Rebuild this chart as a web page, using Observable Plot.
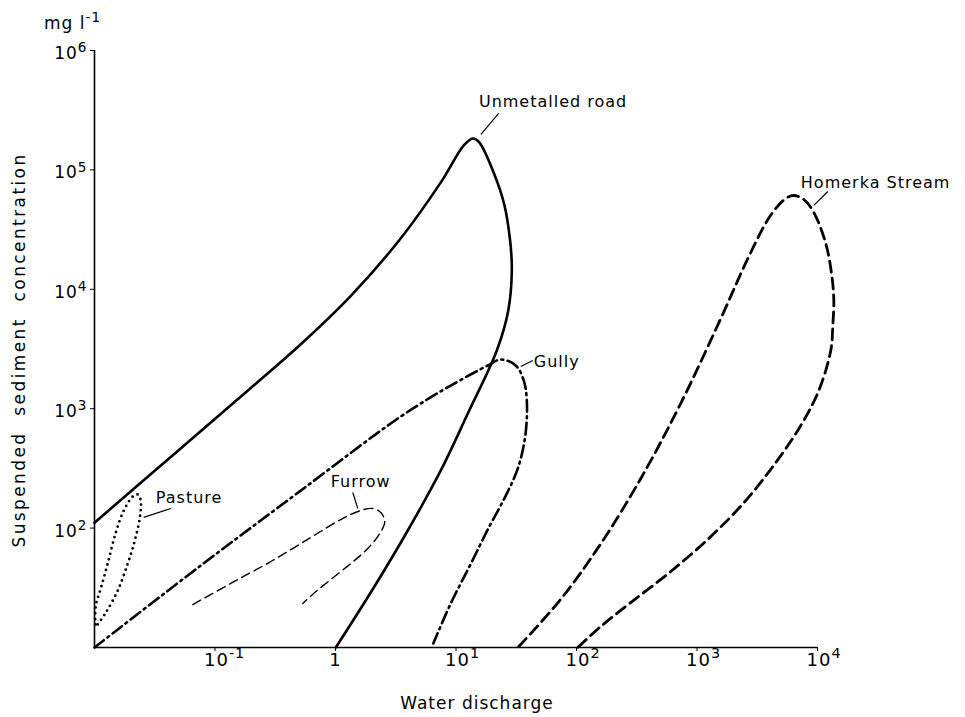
<!DOCTYPE html>
<html><head><meta charset="utf-8">
<script src="https://cdn.jsdelivr.net/npm/d3@7"></script>
<script src="https://cdn.jsdelivr.net/npm/@observablehq/plot@0.6"></script>
<style>
html,body{margin:0;padding:0;background:#fff;}
#chart{width:965px;height:717px;}
svg text{letter-spacing:1px;}
</style></head><body><div id="chart"></div>
<script>
// Water discharge (x) and suspended sediment concentration (y, mg/l) for each hysteresis loop
const roadQ = [0.01, 0.0491, 0.1982, 0.5152, 1.340, 3.483, 7.48, 11.61, 13.79, 15.55, 20.71, 25.06, 28.12, 29.05, 27.16, 21.81, 12.53, 7.48, 3.98, 2.079, 1.006];
const roadC = [111, 443, 1488, 3462, 8804, 26740, 78580, 160700, 183200, 170600, 92800, 52000, 25630, 14370, 6643, 3072, 911, 304, 95.5, 31.8, 10];

const gullyQ = [0.01, 0.0762, 0.515, 3.48, 9.05, 18.4, 23.5, 31.3, 36.5, 38.7, 37.6, 32.6, 25.4, 18.7, 13.3, 9.05, 6.48];
const gullyC = [10, 48.6, 206, 860, 1564, 2300, 2580, 2300, 1722, 1172, 596, 316, 180, 101, 50.5, 23.4, 10.8];

const pastureQ = [0.01015, 0.01025, 0.01128, 0.01288, 0.01503, 0.0175, 0.0208, 0.0229, 0.0242, 0.0238, 0.0216, 0.0189, 0.0156, 0.01242, 0.01064];
const pastureC = [15.6, 22.5, 31.2, 50.6, 91.8, 140, 184, 191, 170, 123, 78.7, 50.6, 30.0, 19.6, 15.6];

const furrowQ = [0.0654, 0.1352, 0.2904, 0.6237, 1.107, 1.622, 2.039, 2.376, 2.566, 2.331, 1.854, 1.340, 0.914, 0.673, 0.535];
const furrowC = [22.9, 34.4, 52.5, 83.4, 118, 140.4, 146, 135, 113.6, 90.1, 67.5, 50.5, 37.1, 28.9, 23.4];

const homerkaQ = [33.2, 74.1, 159.1, 341.7, 733.8, 1576, 2691, 4098, 5456, 6358, 7696, 9318, 11720, 13140, 13660, 13400, 12890, 10250, 7268, 4506, 2540, 1302, 606, 282, 159, 102.5];
const homerkaC = [10.2, 25.4, 74.0, 260.3, 1110, 5693, 18820, 41910, 57610, 61060, 56510, 43980, 24180, 13050, 8057, 4975, 3072, 1420, 723, 354, 170, 85.0, 43.3, 23.8, 15.0, 10];

// Curve labels and their leader lines (data coordinates)
const labelText = ["Unmetalled road", "Gully", "Pasture", "Furrow", "Homerka Stream"];
const labelQ = [15.5, 44.2, 0.0323, 0.914, 7270];
const labelC = [374000, 2480, 180, 245, 78400];
const leaderQ1 = [16.1, 34.5, 0.0256, 1.53, 9310];
const leaderC1 = [198000, 2255, 123, 146, 50400];
const leaderQ2 = [22.6, 43.4, 0.0430, 1.39, 12200];
const leaderC2 = [297000, 2535, 146, 199, 65900];

// Axes
const xDomain = [0.01, 10000];
const yDomain = [10, 1000000];
const xTicks = [0.1, 1, 10, 100, 1000, 10000];
const xTickLabels = ["10^-1", "1", "10^1", "10^2", "10^3", "10^4"];
const yTicks = [100, 1000, 10000, 100000, 1000000];
const yTickLabels = ["10^2", "10^3", "10^4", "10^5", "10^6"];
const xTitle = "Water discharge";
const yTitle = "Suspended sediment concentration";
const yUnit = "mg l^-1";

const rows = (q, c) => q.map((v, i) => ({q: v, c: c[i]}));
const road = rows(roadQ, roadC);
const gully = rows(gullyQ, gullyC);
const pasture = rows(pastureQ, pastureC);
const furrow = rows(furrowQ, furrowC);
const homerka = rows(homerkaQ, homerkaC);
const labels = labelText.map((t, i) => ({t, q: labelQ[i], c: labelC[i],
  q1: leaderQ1[i], c1: leaderC1[i], q2: leaderQ2[i], c2: leaderC2[i]}));
const xt = xTicks.map((v, i) => ({v, label: xTickLabels[i]}));
const yt = yTicks.map((v, i) => ({v, label: yTickLabels[i]}));

const svg = Plot.plot({
  width: 965, height: 717,
  marginLeft: 94, marginRight: 148, marginTop: 50, marginBottom: 70,
  x: {type: "log", domain: xDomain},
  y: {type: "log", domain: yDomain},
  style: {fontFamily: "DejaVu Sans", fontSize: "17px", background: "white", color: "black", overflow: "visible"},
  marks: [
    Plot.axisX(xTicks, {tickSize: 4, tickFormat: () => "", label: null}),
    Plot.axisY(yTicks, {tickSize: 4, tickFormat: () => "", label: null}),
    Plot.ruleX([xDomain[0]], {y1: yDomain[0], y2: yDomain[1], strokeWidth: 1.6}),
    Plot.ruleY([yDomain[0]], {x1: xDomain[0], x2: xDomain[1], strokeWidth: 1.6}),
    Plot.text(xt.filter(d => d.label.includes("^")), {x: "v", text: "label", frameAnchor: "bottom", dy: 18, dx: -11, textAnchor: "start", fontSize: 18}),
    Plot.text(xt.filter(d => !d.label.includes("^")), {x: "v", text: "label", frameAnchor: "bottom", dy: 18, textAnchor: "middle", fontSize: 18}),
    Plot.text(yt, {y: "v", text: "label", frameAnchor: "left", dx: -7, dy: 3, textAnchor: "end"}),
    Plot.line(road, {x: "q", y: "c", curve: "catmull-rom", stroke: "black", strokeWidth: 2.6}),
    Plot.line(gully, {x: "q", y: "c", curve: "catmull-rom", stroke: "black", strokeWidth: 2.6, strokeDasharray: "12,4.5,2,4.5"}),
    Plot.line(pasture, {x: "q", y: "c", curve: "catmull-rom", stroke: "black", strokeWidth: 2.8, strokeDasharray: "0,5.6"}),
    Plot.line(furrow, {x: "q", y: "c", curve: "catmull-rom", stroke: "black", strokeWidth: 1.4, strokeDasharray: "9,5"}),
    Plot.line(homerka, {x: "q", y: "c", curve: "catmull-rom", stroke: "black", strokeWidth: 2.8, strokeDasharray: "11,6"}),
    Plot.link(labels, {x1: "q1", y1: "c1", x2: "q2", y2: "c2", stroke: "black", strokeWidth: 1.2}),
    Plot.text(labels, {x: "q", y: "c", text: "t", textAnchor: "start", fontSize: 16})
  ]
});

const s = d3.select(svg);
s.append("text").attr("x", 477).attr("y", 709).attr("text-anchor", "middle").attr("font-size", 17).text(xTitle);
s.append("text").attr("transform", "translate(25,350) rotate(-90)").attr("text-anchor", "middle")
  .attr("font-size", 17).style("letter-spacing", "2.4px").style("word-spacing", "8px").text(yTitle);
s.append("text").attr("x", 44).attr("y", 29).attr("text-anchor", "start").attr("font-size", 17).text(yUnit);

// superscript exponents
s.selectAll("text").each(function() {
  const t = this.textContent;
  if (t.includes("^")) {
    const [base, exp] = t.split("^");
    this.textContent = "";
    const el = d3.select(this);
    el.append("tspan").text(base);
    el.append("tspan").attr("dy", "-0.5em").attr("font-size", "80%").text(exp);
  }
});
document.getElementById("chart").appendChild(svg);
</script></body></html>
